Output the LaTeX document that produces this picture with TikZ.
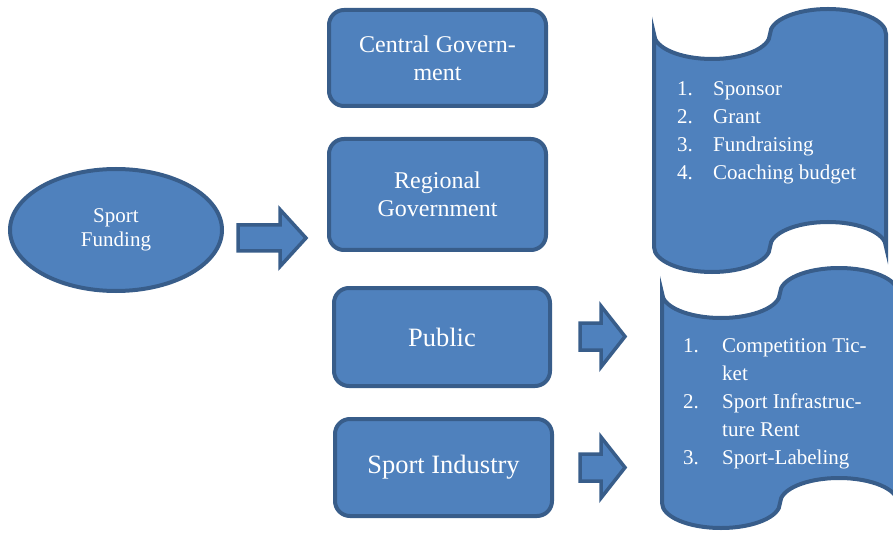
\documentclass[tikz,border=0pt]{standalone}
\usepackage{fontspec}
\setmainfont{Liberation Serif}
\usepackage{tikz}
\usetikzlibrary{calc,shapes.geometric}
\definecolor{boxfill}{HTML}{4F81BD}
\definecolor{boxline}{HTML}{385D8A}
\def\blockarrow[#1](#2)(#3:#4:#5:#6){\draw[#1] ($(#2)+(0,#3)$) -- ++(#4,0) -- ++(0,{#5-#3}) -- ($(#2)+(#6,0)$) -- ($(#2)+(#4,-#5)$) -- ++(0,{#5-#3}) -- ($(#2)+(0,-#3)$) -- cycle;}
\def\punchtape[#1](#2)(#3:#4:#5){\draw[#1] (#2) arc[start angle=180,end angle=360,x radius=#3,y radius=#5] arc[start angle=180,end angle=0,x radius=#3,y radius=#5] -- ++(0,-#4) arc[start angle=0,end angle=180,x radius=#3,y radius=#5] arc[start angle=0,end angle=-180,x radius=#3,y radius=#5] -- cycle;}
\tikzset{
  blueshape/.style={fill=boxfill, draw=boxline, line width=4pt, text=white},
  fundbox/.style={blueshape, rounded corners=15pt, align=center, inner sep=0pt},
}

\begin{document}
\begin{tikzpicture}[x=1pt, y=1pt]
		%%%%% START %%%%%
		\useasboundingbox (0,0) rectangle (893,536);
		
		\node[blueshape, ellipse, minimum width=212pt, minimum height=122pt, inner sep=0pt, align=center, font=\fontsize{21}{24}\selectfont] (funding) at (116,306) {Sport\\Funding};
		
		\coordinate (arrmain) at (238,298);
		\blockarrow[blueshape, line width=3.5pt](arrmain)(13:42:28.5:68);
		
		\node[fundbox, minimum width=217pt, minimum height=96pt, font=\fontsize{24}{28}\selectfont] (central) at (437.5,478) {Central Govern-\\ment};
		\node[fundbox, minimum width=217pt, minimum height=111pt, font=\fontsize{24}{28}\selectfont] (regional) at (437.5,341.5) {Regional\\Government};
		\node[fundbox, minimum width=216pt, minimum height=98pt, font=\fontsize{26.5}{30}\selectfont] (public) at (442,199) {Public};
		\node[fundbox, minimum width=217pt, minimum height=97pt, font=\fontsize{26.5}{30}\selectfont] (industry) at (443.5,68.5) {Sport Industry};
		
		\coordinate (arrpublic) at (580,199.5);
		\coordinate (arrindustry) at (580,68.5);
		\blockarrow[blueshape, line width=3.5pt](arrpublic)(13.5:21:30.5:45);
		\blockarrow[blueshape, line width=3.5pt](arrindustry)(13.5:21:30.5:45);
		
		\punchtape[blueshape](654,502)(58:213:25);
		\node[anchor=north west, inner sep=0pt, text=white, font=\fontsize{21}{28}\selectfont] (fundlist) at (677,460.6) {\begin{tabular}{@{}p{36pt}@{}l@{}}
			1. & Sponsor\\
			2. & Grant\\
			3. & Fundraising\\
			4. & Coaching budget
		\end{tabular}};
		
		\punchtape[blueshape](662,243)(59:210:25);
		\node[anchor=north west, inner sep=0pt, text=white, font=\fontsize{21}{28}\selectfont] (incomelist) at (683,203.6) {\begin{tabular}{@{}p{39pt}@{}l@{}}
			1. & Competition Tic-\\
			   & ket\\
			2. & Sport Infrastruc-\\
			   & ture Rent\\
			3. & Sport-Labeling
		\end{tabular}};
		
		%%%%% END %%%%%
	\end{tikzpicture}
\end{document}
